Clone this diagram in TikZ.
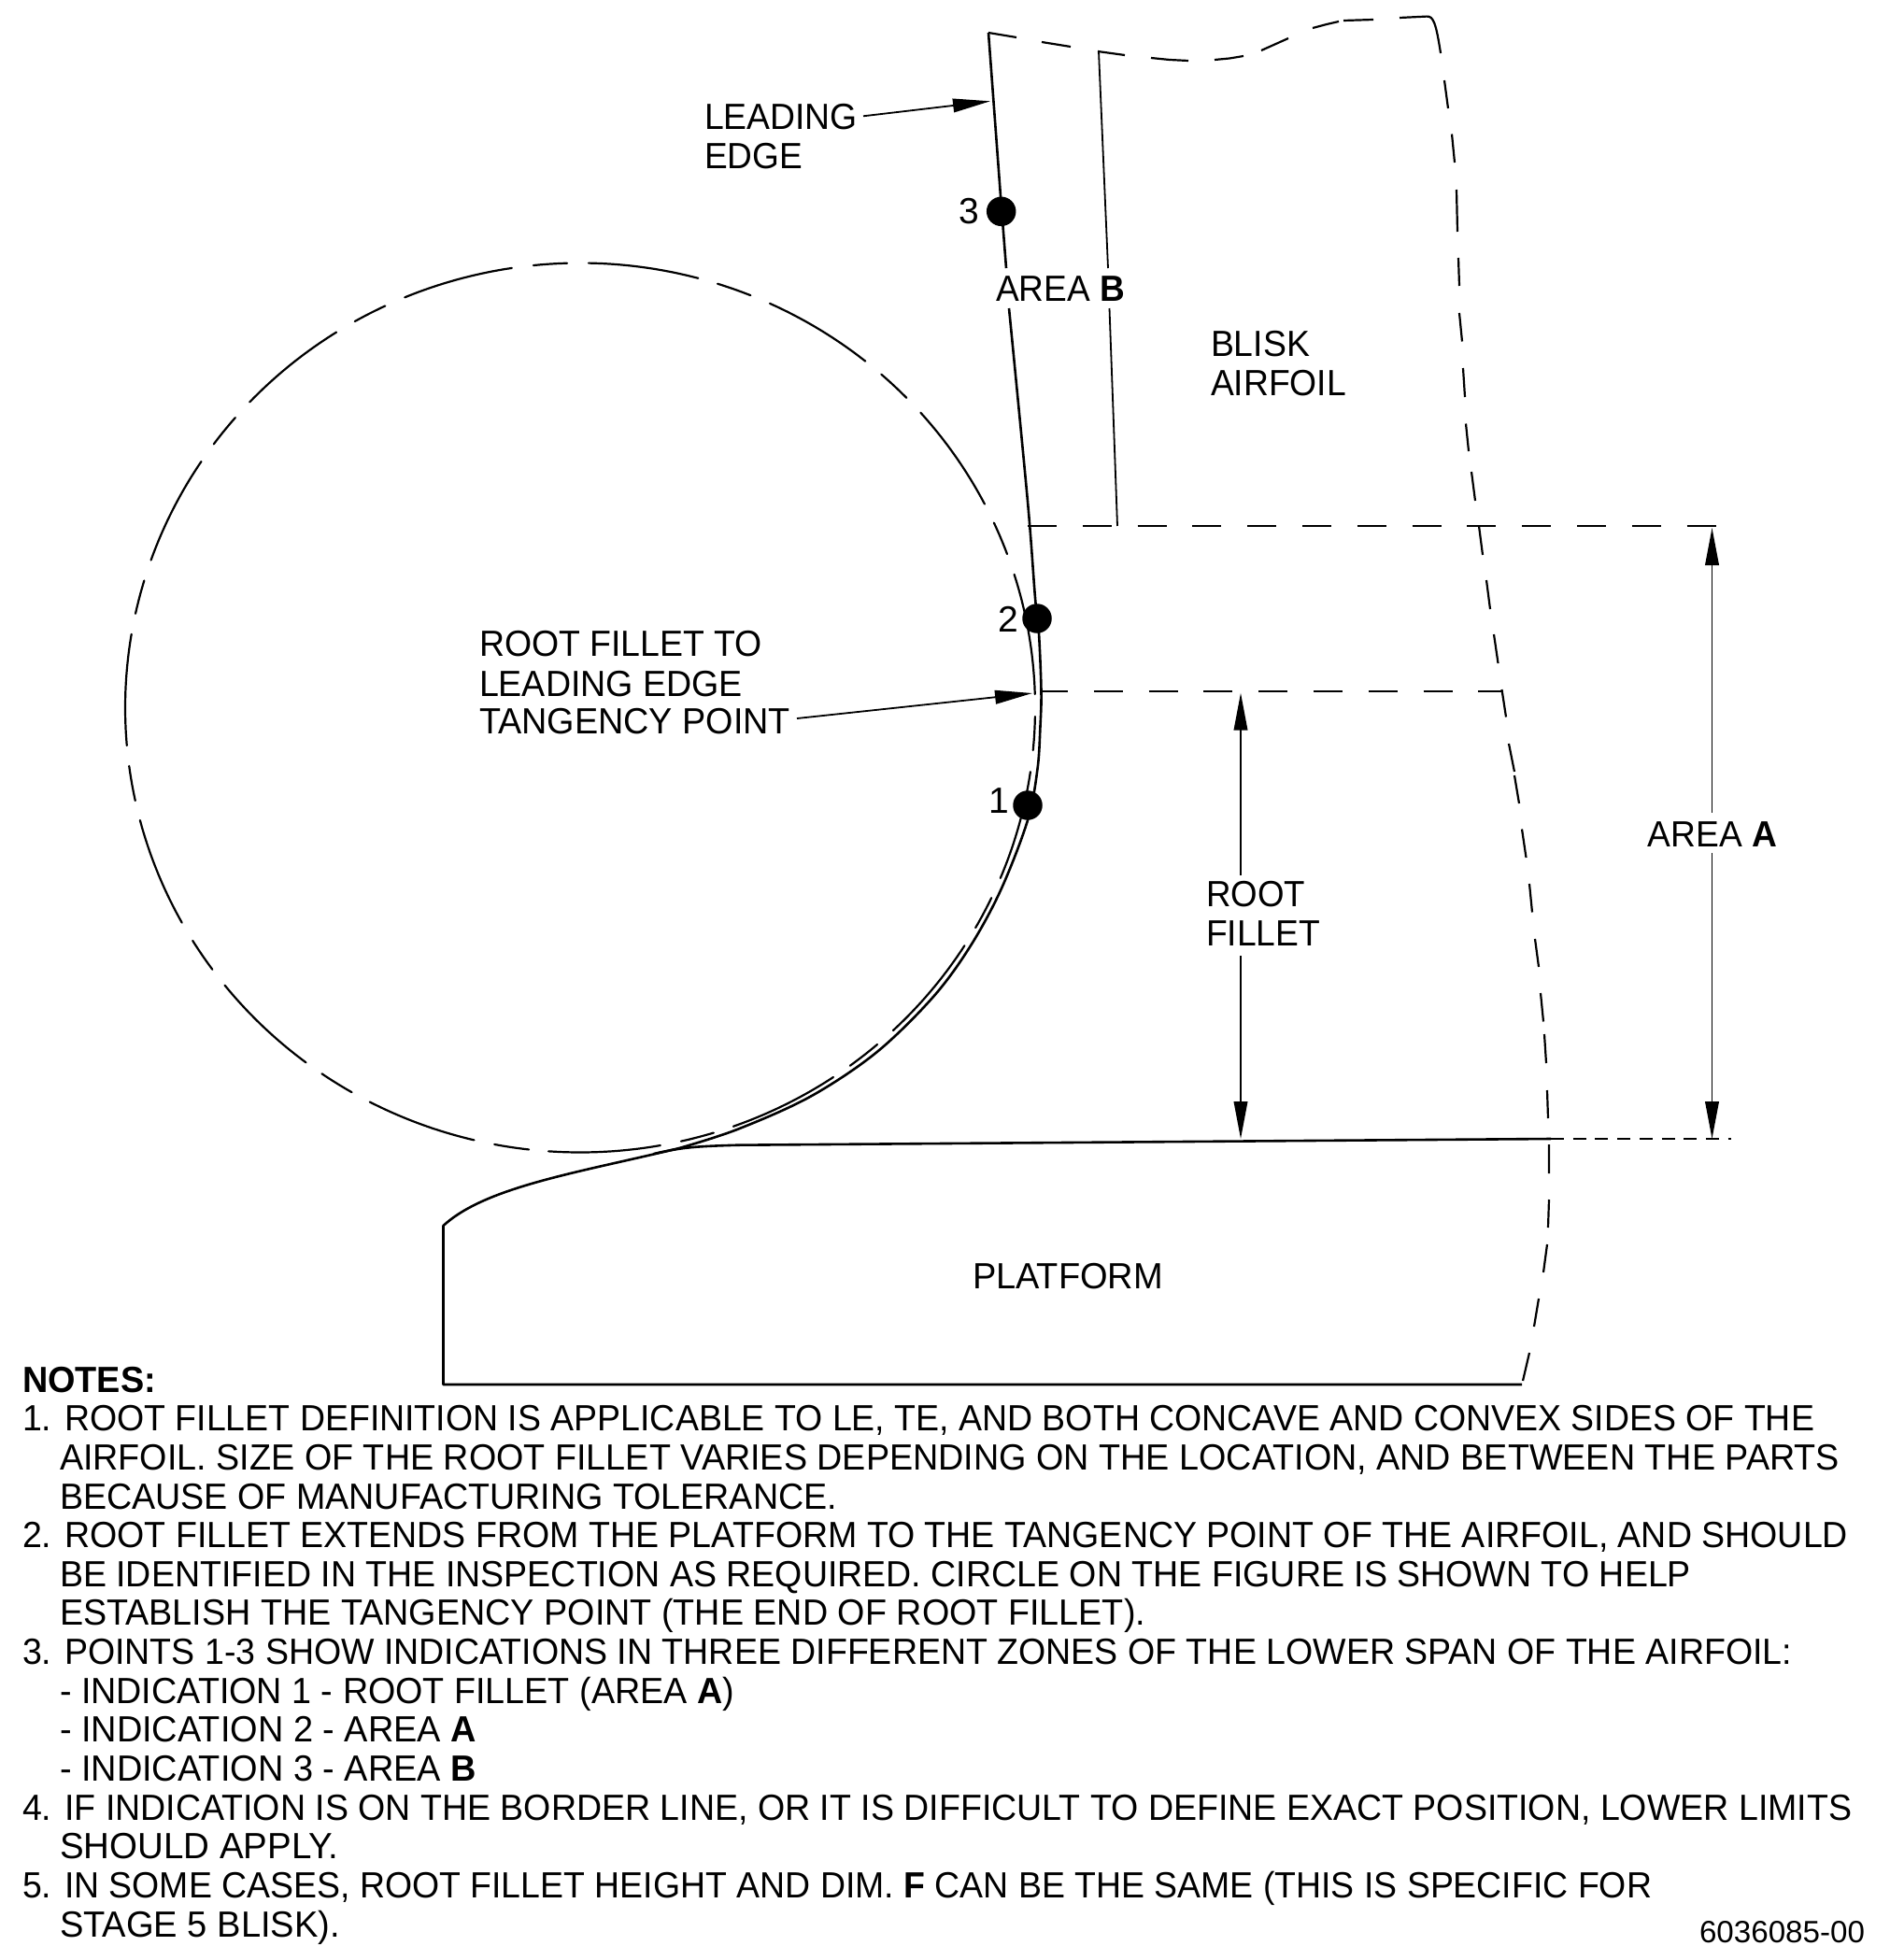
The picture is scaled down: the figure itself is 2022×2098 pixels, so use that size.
\documentclass[tikz,border=0pt]{standalone}
\usepackage{graphicx}
\usepackage{fontspec}
\setmainfont{Liberation Sans}
\usetikzlibrary{arrows.meta}
\tikzset{
  txt/.style={anchor=base west,inner sep=0pt,outer sep=0pt,font=\fontsize{39}{42}\selectfont},
  small/.style={anchor=base west,inner sep=0pt,outer sep=0pt,font=\fontsize{33}{36}\selectfont},
  solidl/.style={line width=2.6pt,line join=round},
  ghost/.style={line width=2.2pt,line cap=round},
  thinl/.style={line width=1.8pt},
  dimarrow/.style={line width=1.8pt,-{Triangle[length=40pt,width=14.6pt]}},
  dot/.style={circle,fill=black,inner sep=0pt,minimum size=31.5pt},
  hdash/.style={line width=1.8pt,dash pattern=on 31pt off 27.8pt},
}
\newcommand\TX[5]{\node[txt] (#1) at (#2,#3) {\resizebox{#4pt}{\height}{#5}};}
\begin{document}
\begin{tikzpicture}[x=1pt,y=-1pt]
\useasboundingbox (0,0) rectangle (2022,2098);
\fill[white] (0,0) rectangle (2022,2098);
% phantom circle
\foreach \a/\b/\c/\d in {
136/798/142/679, 146/657/156/622, 163/600/217/495, 231/477/253/448, 269/432/361/357,
381/346/413/329, 434/320/548/288, 571/285/607/283, 630/282/747/299, 768/304/803/317,
824/325/926/387, 943/401/970/426, 985/442/1053/540, 1063/560/1078/593, 1085/615/1107/743}{
  \pgfmathsetmacro\ta{atan2((\b-757.5)/476,(\a-621)/487)}
  \pgfmathsetmacro\tb{atan2((\d-757.5)/476,(\c-621)/487)}
  \pgfmathsetmacro\tA{\ta<0?\ta+360:\ta}
  \pgfmathsetmacro\tB{\tb<0?\tb+360:\tb}
  \draw[ghost] plot[domain=\tA:\tB,samples=24,smooth] ({621+487*cos(\x)},{757.5+476*sin(\x)});
}
\foreach \a/\b/\c/\d in {
1108/767/1105/803, 1102/826/1071/940, 1061/961/1044/993, 1032/1012/956/1103, 939/1118/910/1141,
892/1153/785/1206, 764/1213/729/1222, 707/1227/587/1233, 566/1231/529/1226, 507/1222/395/1181,
376/1170/344/1150, 327/1138/240/1055, 227/1038/206/1007, 194/988/150/878, 145/857/138/820}{
  \pgfmathsetmacro\tA{atan2((\b-757.5)/476,(\a-621)/487)}
  \pgfmathsetmacro\tB{atan2((\d-757.5)/476,(\c-621)/487)}
  \draw[ghost] plot[domain=\tA:\tB,samples=24,smooth] ({621+487*cos(\x)},{757.5+476*sin(\x)});
}
% leading edge upper
\draw[solidl] (1058,35) -- (1071,210) -- (1077,287);
% leading edge, fillet
\draw[solidl] plot[smooth,tension=0.55] coordinates {
 (1080,330) (1100,537) (1108,640) (1112,678) (1114.5,740) (1113.5,777) (1110.5,823) (1100,878)
 (1071.5,952) (1038.5,1013) (998.6,1067.4) (938,1126.6) (867,1174) (789,1209) (727,1229)};
% platform slope and outline
\draw[solidl] (727,1229) .. controls (620,1255) and (520,1270) .. (474.5,1312) -- (474.5,1482) -- (1629,1482);
\draw[solidl] (700,1235) .. controls (730,1228) and (745,1227) .. (790,1225.7) -- (1660,1219);
% area-B boundary
\draw[thinl] (1176,55) -- (1186,287) (1187.5,330) -- (1196,563);
% airfoil top (phantom) and trailing side
\draw[ghost,line cap=butt] (1058,35)--(1088,40) (1115,45)--(1146,50) (1175,55)--(1204,59)
 (1232,62)--(1252,64)--(1272,65) (1300,64)--(1316,62.5)--(1331,60) (1350,54)--(1379,41)
 (1405,30)--(1420,26)--(1433,23) (1438,22)--(1470,21)
 (1498,19)--(1527,17.6) .. controls (1534,17) and (1537,24) .. (1542,57)
 (1546,86)--(1550,116) (1554,143.5)--(1557,174) (1559,203)--(1560,248) (1561,276)--(1562,306)
 (1562,335)--(1565,365.5) (1566,394)--(1568,425) (1569,453.5)--(1572,483) (1575,505)--(1579,536)
 (1583,563)--(1587,594) (1591,621)--(1595,652) (1599,679)--(1603.5,710) (1607.5,738)--(1612,767.5)
 (1615,796)--(1621,826) (1621,830)--(1626,860) (1629,887.5)--(1633.5,918) (1637,946)--(1640,976.5)
 (1643,1005)--(1647,1035) (1649,1063)--(1652,1093.5) (1653,1107)--(1655,1138) (1656,1167)--(1657,1197)
 (1658,1225)--(1658,1256) (1658,1284)--(1657,1314) (1656,1332)--(1652,1362) (1647,1390)--(1642,1420)
 (1637,1448)--(1630,1478);
% extension dashes
\draw[hdash,dash phase=0pt] (1100,563) -- (1838,563);
\draw[hdash,dash phase=3pt] (1115,740) -- (1607.5,740);
\draw[line width=1.8pt,dash pattern=on 14pt off 9.7pt] (1660,1219) -- (1853,1219);
% labels
\TX{le1}{754}{138.3}{164}{LEADING}
\TX{le2}{754}{180.7}{105}{EDGE}
\TX{areab}{1066}{322.6}{138}{AREA \textbf{B}}
\TX{blisk}{1296}{381}{106}{BLISK}
\TX{airfoil}{1296}{423}{145}{AIRFOIL}
\TX{rf1}{513}{702.7}{303}{ROOT FILLET TO}
\TX{rf2}{513}{745}{282}{LEADING EDGE}
\TX{rf3}{513}{785.7}{333}{TANGENCY POINT}
\TX{root}{1291}{970.7}{106}{ROOT}
\TX{fillet}{1291}{1012.7}{122}{FILLET}
\TX{areaa}{1763.6}{906}{138.4}{AREA \textbf{A}}
\TX{platform}{1041}{1379}{204}{PLATFORM}
\node[txt] (n1) at (1058,870) {1};
\node[txt] (n2) at (1068,676) {2};
\node[txt] (n3) at (1026,239) {3};
% points
\node[dot] (p3) at (1071.7,226.3) {};
\node[dot] (p2) at (1110,662) {};
\node[dot] (p1) at (1100,862) {};
% arrows
\coordinate (leTail) at (924,124.3);
\coordinate (leTip) at (1060,108.3);
\coordinate (tgTail) at (853,769);
\coordinate (tgTip) at (1105,742);
\coordinate (rfTop) at (1328,741.7);
\coordinate (rfBot) at (1328,1219);
\coordinate (rfU) at (1328,937);
\coordinate (rfD) at (1328,1023);
\coordinate (aTop) at (1832.5,565);
\coordinate (aBot) at (1832.5,1219);
\coordinate (aU) at (1832.5,870);
\coordinate (aD) at (1832.5,913);
\draw[dimarrow] (leTail) -- (leTip);
\draw[dimarrow] (tgTail) -- (tgTip);
\draw[dimarrow] (rfU) -- (rfTop);
\draw[dimarrow] (rfD) -- (rfBot);
\draw[dimarrow] (aU) -- (aTop);
\draw[dimarrow] (aD) -- (aBot);
% notes
\TX{l0}{24}{1490}{143}{\textbf{NOTES:}}
\TX{l1}{24}{1531.6}{1918}{1. ROOT FILLET DEFINITION IS APPLICABLE TO LE, TE, AND BOTH CONCAVE AND CONVEX SIDES OF THE}
\TX{l2}{64}{1573.3}{1905}{AIRFOIL. SIZE OF THE ROOT FILLET VARIES DEPENDING ON THE LOCATION, AND BETWEEN THE PARTS}
\TX{l3}{64}{1615}{832}{BECAUSE OF MANUFACTURING TOLERANCE.}
\TX{l4}{24}{1656.6}{1954}{2. ROOT FILLET EXTENDS FROM THE PLATFORM TO THE TANGENCY POINT OF THE AIRFOIL, AND SHOULD}
\TX{l5}{64}{1698.3}{1746}{BE IDENTIFIED IN THE INSPECTION AS REQUIRED. CIRCLE ON THE FIGURE IS SHOWN TO HELP}
\TX{l6}{64}{1739.9}{1162}{ESTABLISH THE TANGENCY POINT (THE END OF ROOT FILLET).}
\TX{l7}{24}{1781.6}{1894}{3. POINTS 1-3 SHOW INDICATIONS IN THREE DIFFERENT ZONES OF THE LOWER SPAN OF THE AIRFOIL:}
\TX{l8}{64}{1823.2}{722}{- INDICATION 1 - ROOT FILLET (AREA \textbf{A})}
\TX{l9}{64}{1864.9}{446}{- INDICATION 2 - AREA \textbf{A}}
\TX{l10}{64}{1906.5}{446}{- INDICATION 3 - AREA \textbf{B}}
\TX{l11}{24}{1948.2}{1958}{4. IF INDICATION IS ON THE BORDER LINE, OR IT IS DIFFICULT TO DEFINE EXACT POSITION, LOWER LIMITS}
\TX{l12}{64}{1989.8}{298}{SHOULD APPLY.}
\TX{l13}{24}{2031.5}{1744}{5. IN SOME CASES, ROOT FILLET HEIGHT AND DIM. \textbf{F} CAN BE THE SAME (THIS IS SPECIFIC FOR}
\TX{l14}{64}{2073.1}{300}{STAGE 5 BLISK).}
\node[small] (ref) at (1819,2079) {\resizebox{177pt}{\height}{6036085-00}};
\end{tikzpicture}
\end{document}
